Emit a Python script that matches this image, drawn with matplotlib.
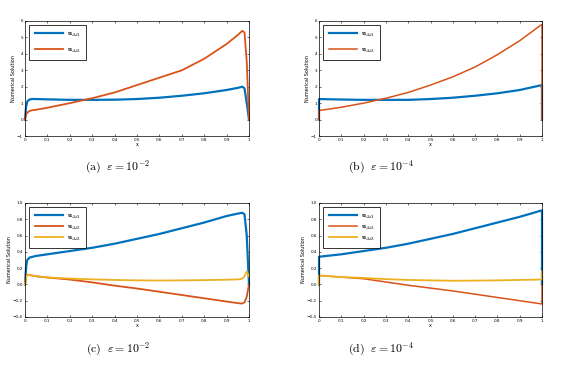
import matplotlib
matplotlib.use('Agg')
import matplotlib.pyplot as plt

plt.rcParams['mathtext.fontset'] = 'cm'

BLUE = '#0072BD'
ORANGE = '#D95319'
YELLOW = '#EDB120'

# (a) eps = 1e-2, two components
xa = [0, 0.005, 0.01, 0.02, 0.03, 0.05, 0.1, 0.2, 0.3, 0.4, 0.5, 0.6, 0.7, 0.8, 0.9, 0.95, 0.97, 0.98, 0.99, 1.0]
ua1 = [0, 0.8, 1.1, 1.22, 1.25, 1.25, 1.23, 1.2, 1.2, 1.21, 1.25, 1.33, 1.45, 1.6, 1.8, 1.93, 2.0, 1.9, 1.0, 0]
ua2 = [0, 0.3, 0.42, 0.52, 0.56, 0.6, 0.72, 1.0, 1.3, 1.65, 2.1, 2.55, 3.0, 3.7, 4.6, 5.15, 5.4, 5.3, 3.5, 0]

# (b) eps = 1e-4
xb = [0, 0.0001, 0.1, 0.2, 0.3, 0.4, 0.5, 0.6, 0.7, 0.8, 0.9, 0.9999, 1.0]
ub1 = [0, 1.25, 1.22, 1.2, 1.2, 1.2, 1.25, 1.33, 1.45, 1.6, 1.8, 2.1, 0]
ub2 = [0, 0.55, 0.75, 1.0, 1.3, 1.65, 2.1, 2.6, 3.2, 3.95, 4.8, 5.8, 0]

# (c) eps = 1e-2, three components
xc = [0, 0.005, 0.01, 0.02, 0.05, 0.1, 0.2, 0.3, 0.4, 0.5, 0.6, 0.7, 0.8, 0.9, 0.95, 0.97, 0.98, 0.99, 1.0]
uc1 = [0, 0.22, 0.3, 0.33, 0.35, 0.37, 0.41, 0.45, 0.5, 0.56, 0.62, 0.69, 0.76, 0.84, 0.87, 0.88, 0.86, 0.6, 0]
uc2 = [0, 0.1, 0.12, 0.115, 0.1, 0.085, 0.06, 0.025, -0.015, -0.05, -0.09, -0.13, -0.17, -0.21, -0.23, -0.235, -0.22, -0.15, 0]
uc3 = [0, 0.1, 0.12, 0.115, 0.1, 0.085, 0.072, 0.062, 0.055, 0.05, 0.048, 0.05, 0.053, 0.058, 0.062, 0.07, 0.1, 0.16, 0.1]

# (d) eps = 1e-4
xd = [0, 0.0001, 0.1, 0.2, 0.3, 0.4, 0.5, 0.6, 0.7, 0.8, 0.9, 0.9999, 1.0]
ud1 = [0, 0.34, 0.37, 0.41, 0.45, 0.5, 0.56, 0.62, 0.69, 0.76, 0.83, 0.91, 0]
ud2 = [0, 0.11, 0.09, 0.07, 0.03, -0.01, -0.045, -0.08, -0.12, -0.16, -0.2, -0.24, 0]
ud3 = [0, 0.11, 0.09, 0.08, 0.065, 0.055, 0.05, 0.045, 0.047, 0.05, 0.055, 0.06, 0.16]

xticks = [0, 0.1, 0.2, 0.3, 0.4, 0.5, 0.6, 0.7, 0.8, 0.9, 1]
labels2 = [r'$\mathbf{u}_{\Delta t1}$', r'$\mathbf{u}_{\Delta t2}$']
labels3 = [r'$\mathbf{u}_{\Delta t1}$', r'$\mathbf{u}_{\Delta t2}$', r'$\mathbf{u}_{\Delta t3}$']

fig = plt.figure(figsize=(5.82, 3.67), dpi=100)

W, H = 582.0, 367.0
boxes = {
    'a': (25, 21, 249, 136),
    'b': (319, 21, 542, 136),
    'c': (25, 203, 249, 317),
    'd': (319, 203, 542, 317),
}


def make_ax(key):
    l, t, r, b = boxes[key]
    ax = fig.add_axes([l / W, 1 - b / H, (r - l) / W, (b - t) / H])
    ax.tick_params(direction='in', labelsize=3, length=1.5, width=0.4, pad=1.5,
                   top=True, right=True)
    for s in ax.spines.values():
        s.set_linewidth(0.5)
    ax.set_xlim(0, 1)
    ax.set_xticks(xticks)
    ax.set_xticklabels(['0', '0.1', '0.2', '0.3', '0.4', '0.5', '0.6', '0.7', '0.8', '0.9', '1'])
    ax.set_xlabel('x', fontsize=3.5, labelpad=0)
    ax.set_ylabel('Numerical Solution', fontsize=3.5, labelpad=1)
    return ax


def legend(ax, n):
    leg = ax.legend(loc='upper left', fontsize=5, frameon=True, fancybox=False,
                    edgecolor='black', handlelength=4, borderpad=0.8, handletextpad=0.6,
                    labelspacing=0.4 if n == 3 else 1.1, borderaxespad=0.6)
    leg.get_frame().set_linewidth(0.7)


ax = make_ax('a')
ax.plot(xa, ua1, color=BLUE, lw=1.6, label=labels2[0], clip_on=False)
ax.plot(xa, ua2, color=ORANGE, lw=1.3, label=labels2[1], clip_on=False)
ax.set_ylim(-1, 6)
ax.set_yticks(range(-1, 7))
legend(ax, 2)

ax = make_ax('b')
ax.plot(xb, ub1, color=BLUE, lw=1.6, label=labels2[0], clip_on=False)
ax.plot(xb, ub2, color=ORANGE, lw=1.1, label=labels2[1], clip_on=False)
ax.set_ylim(-1, 6)
ax.set_yticks(range(-1, 7))
legend(ax, 2)

ax = make_ax('c')
ax.plot(xc, uc1, color=BLUE, lw=1.6, label=labels3[0], clip_on=False)
ax.plot(xc, uc2, color=ORANGE, lw=1.3, label=labels3[1], clip_on=False)
ax.plot(xc, uc3, color=YELLOW, lw=1.3, label=labels3[2], clip_on=False)
ax.set_ylim(-0.4, 1)
ax.set_yticks([-0.4, -0.2, 0, 0.2, 0.4, 0.6, 0.8, 1])
legend(ax, 3)

ax = make_ax('d')
ax.plot(xd, ud1, color=BLUE, lw=1.6, label=labels3[0], clip_on=False)
ax.plot(xd, ud2, color=ORANGE, lw=1.1, label=labels3[1], clip_on=False)
ax.plot(xd, ud3, color=YELLOW, lw=1.3, label=labels3[2], clip_on=False)
ax.set_ylim(-0.4, 1)
ax.set_yticks([-0.4, -0.2, 0, 0.2, 0.4, 0.6, 0.8, 1])
legend(ax, 3)

caps = [('(a)', '-2', 118, 167), ('(b)', '-4', 381, 167),
        ('(c)', '-2', 118, 349), ('(d)', '-4', 381, 349)]
for lab, ex, cx, cy in caps:
    fig.text(cx / W, 1 - cy / H, r'$\mathrm{' + lab + r'}\ \ \varepsilon = 10^{' + ex + '}$',
             ha='center', va='center', fontsize=8.5)

fig.savefig('out.png', dpi=100)
